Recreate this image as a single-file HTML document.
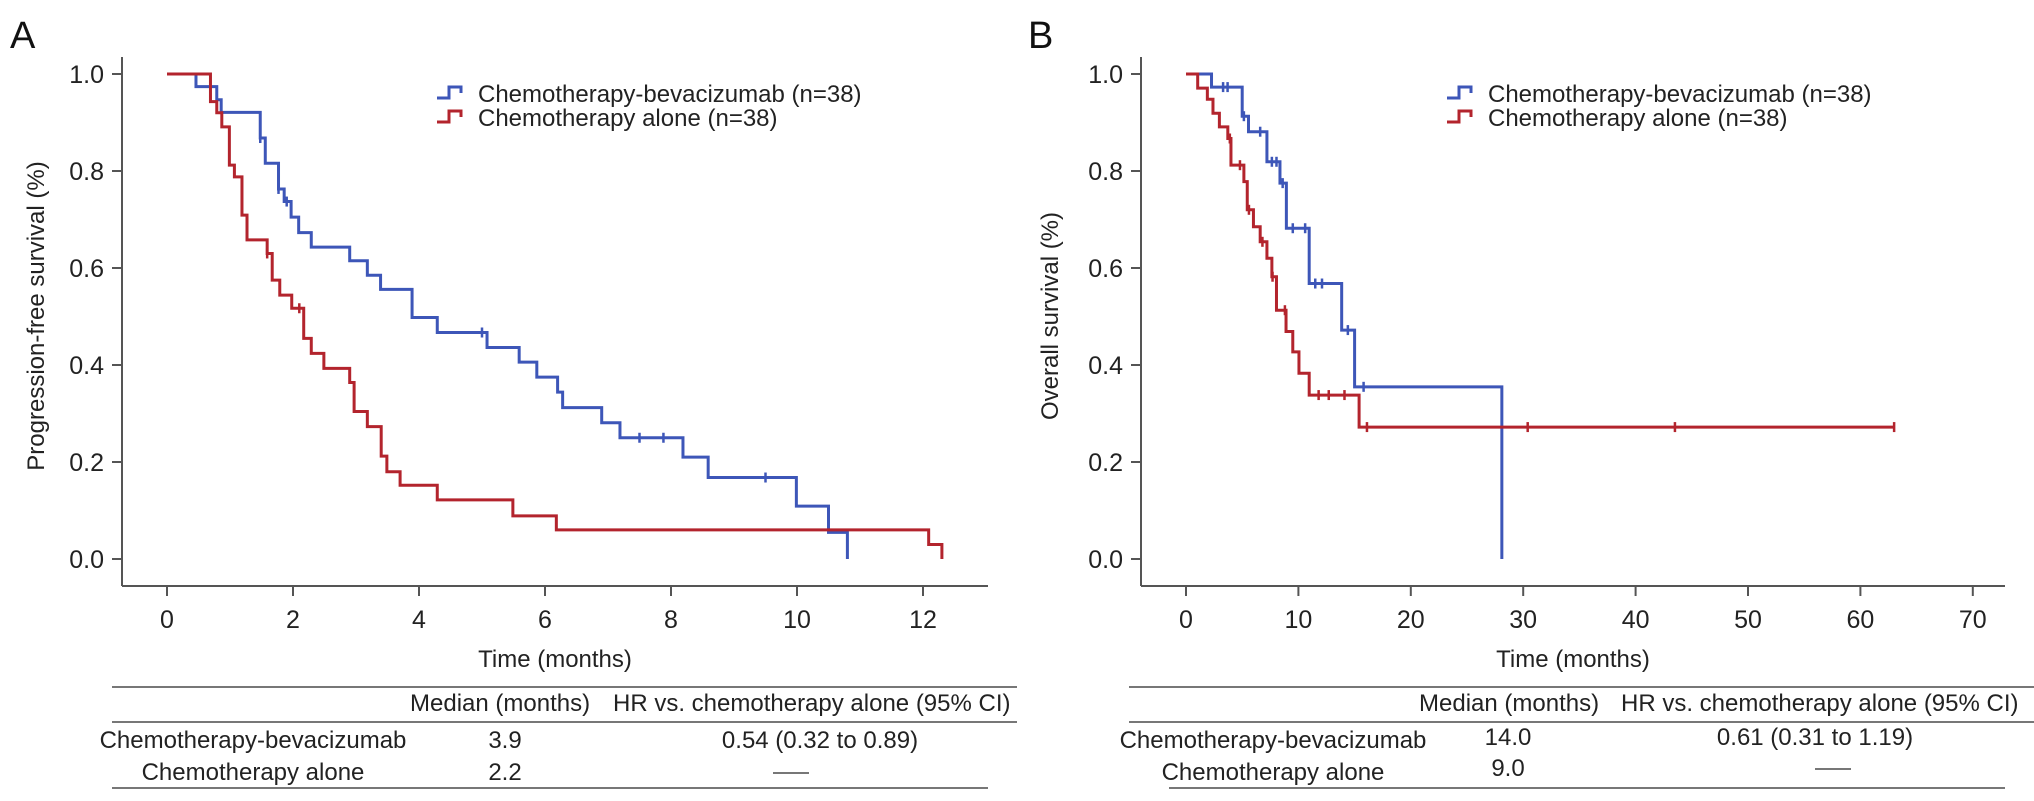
<!DOCTYPE html>
<html><head><meta charset="utf-8"><style>
html,body{margin:0;padding:0;background:#fff}
svg{display:block;font-family:"Liberation Sans",Arial,sans-serif}
</style></head><body>
<svg id="fig" width="2034" height="801" viewBox="0 0 2034 801" xmlns="http://www.w3.org/2000/svg">
<text x="10" y="48" font-size="38" fill="#111">A</text>
<text x="1028" y="48" font-size="38" fill="#111">B</text>
</svg>
<script>
// ---- Panel A data (PFS) ----
const aBlueT = [0,0.46,0.79,0.86,1.48,1.56,1.77,1.86,1.97,2.09,2.29,2.90,3.18,3.39,3.89,4.29,5.08,5.59,5.87,6.20,6.28,6.90,7.19,8.19,8.59,9.99,10.5,10.8];
const aBlueS = [1,0.974,0.947,0.921,0.868,0.816,0.763,0.737,0.705,0.673,0.643,0.615,0.585,0.556,0.498,0.467,0.436,0.406,0.375,0.344,0.312,0.281,0.25,0.21,0.168,0.109,0.055,0];
const aBlueCens = [1.48,1.77,1.9,5.0,7.5,7.88,9.5];
const aRedT = [0,0.69,0.79,0.87,0.99,1.07,1.19,1.27,1.59,1.67,1.79,1.98,2.17,2.29,2.49,2.90,2.97,3.18,3.40,3.49,3.70,4.29,5.49,6.18,12.09,12.3];
const aRedS = [1,0.943,0.92,0.891,0.812,0.788,0.709,0.658,0.63,0.575,0.544,0.517,0.455,0.424,0.393,0.364,0.304,0.273,0.212,0.18,0.152,0.122,0.089,0.06,0.03,0];
const aRedCens = [1.59,2.1];
const aXTicks = [0,2,4,6,8,10,12];
// ---- Panel B data (OS) ----
const bBlueT = [0,2.27,5.0,5.56,7.2,8.36,8.93,10.96,13.85,15.0,28.1];
const bBlueS = [1,0.973,0.913,0.881,0.819,0.775,0.682,0.568,0.472,0.355,0];
const bBlueCens = [3.3,3.7,5.15,6.6,7.64,8.05,8.6,9.5,10.6,11.5,12.1,14.4,15.8];
const bRedT = [0,1.04,1.9,2.4,2.97,3.72,4.0,5.15,5.45,6.0,6.6,7.2,7.64,8.05,8.9,9.5,10.05,10.96,15.4];
const bRedS = [1,0.971,0.948,0.919,0.891,0.867,0.812,0.778,0.72,0.685,0.654,0.62,0.582,0.513,0.469,0.427,0.383,0.338,0.272];
const bRedEnd = 63.0;
const bRedCens = [3.9,4.8,5.6,6.8,7.7,8.8,11.8,12.7,14.1,16.1,30.4,43.5,63.0];
const bXTicks = [0,10,20,30,40,50,60,70];
const yTicks = [0.0,0.2,0.4,0.6,0.8,1.0];

const NS = "http://www.w3.org/2000/svg";
const svg = document.getElementById('fig');
const BLUE = "#3d56b8", RED = "#b3242d", AX = "#555";
function mk(tag, attrs, parent){const e=document.createElementNS(NS,tag);for(const k in attrs)e.setAttribute(k,attrs[k]);(parent||svg).appendChild(e);return e;}

function panel(p){
  const g = mk('g',{});
  
  
  const xs = t => p.x0 + t*p.pxPer;
  const ys = s => 559 - s*485;
  // axes
  const ya = mk('line',{x1:p.ax,y1:57,x2:p.ax,y2:586,stroke:AX,'stroke-width':2},g);
  
  
  const xa = mk('line',{x1:p.ax,y1:586,x2:p.axEnd,y2:586,stroke:AX,'stroke-width':2},g);
  
  
  yTicks.forEach(v=>{
    mk('line',{x1:p.ax-10,y1:ys(v),x2:p.ax,y2:ys(v),stroke:AX,'stroke-width':2},g);
    const t = mk('text',{x:p.ax-18,y:ys(v)+9,'font-size':25,'text-anchor':'end',fill:'#222'},g);
    t.textContent = v.toFixed(1);
    
    
  });
  p.xTicks.forEach(v=>{
    mk('line',{x1:xs(v),y1:586,x2:xs(v),y2:596,stroke:AX,'stroke-width':2},g);
    const t = mk('text',{x:xs(v),y:628,'font-size':25,'text-anchor':'middle',fill:'#222'},g);
    t.textContent = v;
    
    
  });
  const xt = mk('text',{x:(p.ax+p.axEnd)/2,y:667,'font-size':24,'text-anchor':'middle',fill:'#222'},g);
  xt.textContent = 'Time (months)';
  
  
  const yt = mk('text',{x:0,y:0,'font-size':24,'text-anchor':'middle',fill:'#222',transform:`translate(${p.ytX},316) rotate(-90)`},g);
  yt.textContent = p.yTitle;
  
  
  // curves
  p.series.forEach(s=>{
    let d = `M${xs(s.T[0])},${ys(s.S[0])}`;
    for(let i=1;i<s.T.length;i++){ d += ` H${xs(s.T[i])} V${ys(s.S[i])}`; }
    if(s.end!==undefined) d += ` H${xs(s.end)}`;
    const path = mk('path',{d:d,fill:'none',stroke:s.color,'stroke-width':3},g);
    
    
    s.cens.forEach(c=>{
      let k=0; for(let i=0;i<s.T.length;i++){ if(s.T[i]<=c) k=i; }
      const cm = mk('line',{x1:xs(c),y1:ys(s.S[k])-5,x2:xs(c),y2:ys(s.S[k])+5,stroke:s.color,'stroke-width':2.5},g);
      
      
    });
  });
  // legend
  [[BLUE,'Chemotherapy-bevacizumab (n=38)',p.legY[0]],[RED,'Chemotherapy alone (n=38)',p.legY[1]]].forEach(([c,txt,y])=>{
    const lx = p.legX;
    const ic = mk('path',{d:`M${lx},${y+5} H${lx+12} V${y-6} H${lx+24} V${y}`,fill:'none',stroke:c,'stroke-width':3},g);
    
    
    const t = mk('text',{x:lx+41,y:y+9,'font-size':24,fill:'#222'},g);
    t.textContent = txt;
    
    
  });
  // table
  const tb = mk('g',{},g);
  
  
  mk('line',{x1:p.tL,y1:687,x2:p.tR,y2:687,stroke:'#777','stroke-width':2},tb);
  mk('line',{x1:p.tL,y1:722,x2:p.tR,y2:722,stroke:'#777','stroke-width':2},tb);
  mk('line',{x1:p.tBL,y1:788,x2:p.axEnd,y2:788,stroke:'#777','stroke-width':2},tb);
  const cells = [
    [p.hMed,711,'Median (months)','start'],
    [p.hHR,711,'HR vs. chemotherapy alone (95% CI)','start'],
    [p.cName,748,'Chemotherapy-bevacizumab','middle'],
    [p.cName,780,'Chemotherapy alone','middle'],
    [p.cMed,p.r1,p.med1,'middle'],
    [p.cMed,p.r2,p.med2,'middle'],
    [p.cHR,p.r1,p.hr,'middle']
  ];
  cells.forEach(([x,y,txt,anc])=>{
    const t = mk('text',{x:x,y:y,'font-size':24,'text-anchor':anc,fill:'#222'},tb);
    t.textContent = txt;
    
    
  });
  mk('line',{x1:p.dash-18,y1:p.r2-7,x2:p.dash+18,y2:p.r2-7,stroke:'#777','stroke-width':2},tb);
}

panel({id:'pfs',x0:167,pxPer:63,ax:122,axEnd:988,xTicks:aXTicks,ytX:44,yTitle:'Progression-free survival (%)',
  series:[{T:aBlueT,S:aBlueS,cens:aBlueCens,color:BLUE,name:'pfs-bevacizumab-curve'},
          {T:aRedT,S:aRedS,cens:aRedCens,color:RED,name:'pfs-chemo-alone-curve'}],
  legX:437,legY:[93,117],tL:112,tR:1017,tBL:112,hMed:410,hHR:613,cName:253,cMed:505,cHR:820,dash:791,r1:748,r2:780,
  med1:'3.9',med2:'2.2',hr:'0.54 (0.32 to 0.89)'});
panel({id:'os',x0:1186,pxPer:11.24,ax:1141,axEnd:2005,xTicks:bXTicks,ytX:1058,yTitle:'Overall survival (%)',
  series:[{T:bBlueT,S:bBlueS,cens:bBlueCens,color:BLUE,name:'os-bevacizumab-curve'},
          {T:bRedT,S:bRedS,cens:bRedCens,color:RED,name:'os-chemo-alone-curve',end:bRedEnd}],
  legX:1447,legY:[93,117],tL:1129,tR:2034,tBL:1169,hMed:1419,hHR:1621,cName:1273,cMed:1508,cHR:1815,dash:1833,r1:745,r2:776,
  med1:'14.0',med2:'9.0',hr:'0.61 (0.31 to 1.19)'});
</script>
</body></html>
